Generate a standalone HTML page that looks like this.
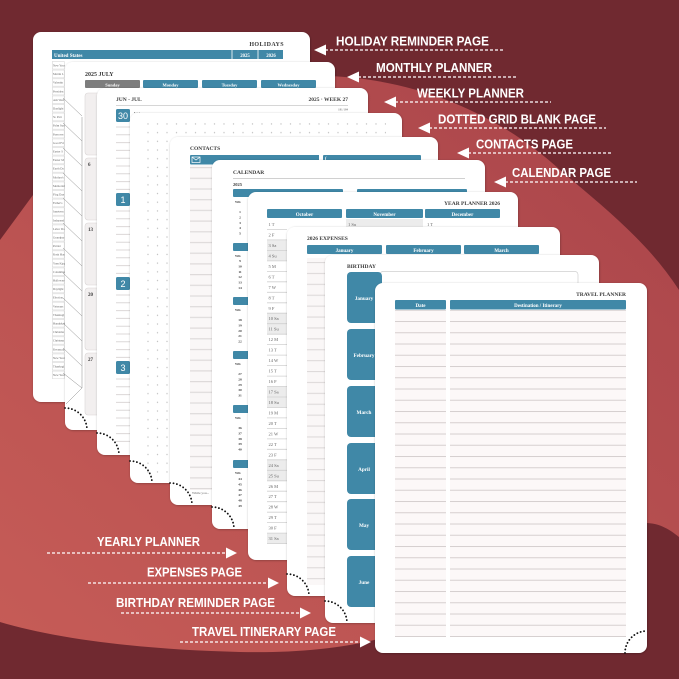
<!DOCTYPE html>
<html><head><meta charset="utf-8">
<style>
html,body{margin:0;padding:0;width:679px;height:679px;overflow:hidden;background:#702930}
svg{display:block}
.t{font-family:"Liberation Serif",serif;font-weight:bold;fill:#3a3a3a}
.r{font-family:"Liberation Serif",serif;fill:#666}
.w{font-family:"Liberation Serif",serif;font-weight:bold;fill:#fff}
.L{font-family:"Liberation Sans",sans-serif;font-weight:bold;fill:#fff;font-size:12.5px}
</style></head><body>
<svg width="679" height="679" viewBox="0 0 679 679" xmlns="http://www.w3.org/2000/svg">
<defs>
<linearGradient id="lg" x1="1" y1="0" x2="0" y2="1"><stop offset="0" stop-color="#a9444a"/><stop offset="1" stop-color="#c65c57"/></linearGradient>
<filter id="sh" x="-5%" y="-5%" width="110%" height="110%"><feDropShadow dx="0.4" dy="0.6" stdDeviation="1" flood-color="#000" flood-opacity="0.3"/></filter>
<pattern id="dots" patternUnits="userSpaceOnUse" x="147" y="123" width="9.5" height="8.7"><circle cx="1" cy="1" r="0.7" fill="#c2c2c2"/></pattern>
<pattern id="hl" patternUnits="userSpaceOnUse" x="52" y="61" width="20" height="8.6"><rect x="0.3" y="0.5" width="12" height="7.6" fill="#fff" stroke="#cfcfcf" stroke-width="0.5"/></pattern>
<pattern id="trav" patternUnits="userSpaceOnUse" x="0" y="321" width="20" height="11.25"><rect width="20" height="11.25" fill="#fcf8f8"/><rect y="0" width="20" height="1" fill="#d6cfcf"/></pattern>
<pattern id="crow" patternUnits="userSpaceOnUse" x="0" y="167" width="20" height="10.7"><rect width="20" height="10.7" fill="#faf7f7"/><rect y="0" width="20" height="1.2" fill="#dedada"/></pattern>
<pattern id="erow" patternUnits="userSpaceOnUse" x="0" y="262" width="20" height="10.9"><rect width="20" height="10.9" fill="#faf7f7"/><rect y="0" width="20" height="1.1" fill="#dedada"/></pattern>
</defs>

<!-- background -->
<rect width="679" height="679" fill="#702930"/>
<path d="M0,240 L33,195 L200,120 L330,76 C420,80 500,115 560,170 C610,212 650,245 679,290 L679,537 C668,528 658,523 645,523 L390,636 C340,650 290,653 240,652 C150,650 60,640 0,622 Z" fill="url(#lg)"/>

<!-- PAGE 1 HOLIDAYS -->
<rect x="33" y="32" width="277" height="370" rx="8" fill="#fff" filter="url(#sh)"/>
<text class="t" x="284" y="46" font-size="6" text-anchor="end" letter-spacing="0.4">HOLIDAYS</text>
<rect x="52" y="50" width="231" height="9" fill="#4088a7"/>
<text class="w" x="54" y="57" font-size="5">United States</text>
<path d="M232,50v9M258,50v9" stroke="#fff" stroke-width="0.8"/>
<text class="w" x="245" y="57" font-size="4.8" text-anchor="middle">2025</text>
<text class="w" x="271" y="57" font-size="4.8" text-anchor="middle">2026</text>
<rect x="52" y="61" width="13" height="318" fill="url(#hl)"/>
<g class="r" font-size="3">
<text x="53" y="66.5">New Year</text><text x="53" y="75.1">Martin L</text><text x="53" y="83.7">Valentin</text><text x="53" y="92.3">Presiden</text><text x="53" y="100.9">Ash Wed</text><text x="53" y="109.5">Daylight</text><text x="53" y="118.1">St. Patr</text><text x="53" y="126.7">Palm Sun</text><text x="53" y="135.3">Passover</text><text x="53" y="143.9">Good Fri</text><text x="53" y="152.5">Easter S</text><text x="53" y="161.1">Easter M</text><text x="53" y="169.7">Earth Da</text><text x="53" y="178.3">Mother's</text><text x="53" y="186.9">Memorial</text><text x="53" y="195.5">Flag Day</text><text x="53" y="204.1">Father's</text><text x="53" y="212.7">Juneteen</text><text x="53" y="221.3">Independ</text><text x="53" y="229.9">Labor Da</text><text x="53" y="238.5">Grandpar</text><text x="53" y="247.1">Patriot</text><text x="53" y="255.7">Rosh Has</text><text x="53" y="264.3">Yom Kipp</text><text x="53" y="272.9">Columbus</text><text x="53" y="281.5">Hallowee</text><text x="53" y="290.1">Daylight</text><text x="53" y="298.7">Election</text><text x="53" y="307.3">Veterans</text><text x="53" y="315.9">Thanksgi</text><text x="53" y="324.5">Hanukkah</text><text x="53" y="333.1">Christma</text><text x="53" y="341.7">Christma</text><text x="53" y="350.3">Kwanzaa</text><text x="53" y="358.9">New Year</text><text x="53" y="367.5">Thanksgi</text><text x="53" y="376.1">New Year</text>
</g>

<!-- PAGE 2 MONTHLY -->
<rect x="65" y="62" width="270" height="368" rx="8" fill="#fff" filter="url(#sh)"/>
<text class="t" x="85" y="76" font-size="6">2025 JULY</text>
<rect x="85" y="80" width="55" height="8" rx="1" fill="#7d7d7d"/>
<rect x="143" y="80" width="55" height="8" rx="1" fill="#4088a7"/>
<rect x="202" y="80" width="55" height="8" rx="1" fill="#4088a7"/>
<rect x="261" y="80" width="55" height="8" rx="1" fill="#4088a7"/>
<g class="w" font-size="4.5" text-anchor="middle"><text x="112.5" y="86.3">Sunday</text><text x="170.5" y="86.3">Monday</text><text x="229.5" y="86.3">Tuesday</text><text x="288.5" y="86.3">Wednesday</text></g>
<g fill="#f2efef" stroke="#d9d5d5" stroke-width="0.6">
<rect x="85" y="93" width="40" height="62" rx="3"/><rect x="85" y="158" width="40" height="62" rx="3"/><rect x="85" y="223" width="40" height="62" rx="3"/><rect x="85" y="288" width="40" height="62" rx="3"/><rect x="85" y="353" width="40" height="62" rx="3"/>
</g>
<g class="t" font-size="5" fill="#555"><text x="88" y="166">6</text><text x="88" y="231">13</text><text x="88" y="296">20</text><text x="88" y="361">27</text></g>
<path d="M82,117V388L66,404M63,98L82,116M63,123L82,141M63,148L82,166M63,173L82,191M63,198L82,216M63,223L82,241M63,248L82,266M63,273L82,291M63,298L82,316M63,323L82,341M63,348L82,366M63,373L82,388" stroke="#8a8a8a" stroke-width="0.5" fill="none"/>
<path d="M65,408A22,22 0 0 1 87,430" stroke="#111" stroke-width="1.8" stroke-dasharray="0.1 3.4" stroke-linecap="round" fill="none"/>

<!-- PAGE 3 WEEKLY -->
<rect x="97" y="88" width="271" height="367" rx="8" fill="#fff" filter="url(#sh)"/>
<text class="t" x="116" y="101" font-size="5.5">JUN - JUL</text>
<text class="t" x="348" y="101" font-size="5.5" text-anchor="end">2025 · WEEK 27</text>
<path d="M116,105.5H348" stroke="#c8c8c8" stroke-width="0.8"/>
<text class="r" x="348" y="110.5" font-size="3" text-anchor="end">181/184</text>
<text class="r" x="134" y="114" font-size="4">• -    -</text>
<g fill="#4088a7"><rect x="116" y="109" width="14" height="13" rx="1.5"/><rect x="116" y="193" width="14" height="13" rx="1.5"/><rect x="116" y="277" width="14" height="13" rx="1.5"/><rect x="116" y="361" width="14" height="13" rx="1.5"/></g>
<g font-family="Liberation Sans,sans-serif" font-size="9" fill="#fff" text-anchor="middle"><text x="123" y="118.8">30</text><text x="123" y="202.8">1</text><text x="123" y="286.8">2</text><text x="123" y="370.8">3</text></g>
<path d="M116,127h15M116,134.8h15M116,142.6h15M116,150.4h15M116,158.2h15M116,166h15M116,173.8h15M116,181.6h15M116,189.4h15M116,211h15M116,218.8h15M116,226.6h15M116,234.4h15M116,242.2h15M116,250h15M116,257.8h15M116,265.6h15M116,273.4h15M116,295h15M116,302.8h15M116,310.6h15M116,318.4h15M116,326.2h15M116,334h15M116,341.8h15M116,349.6h15M116,357.4h15M116,379h15M116,386.8h15M116,394.6h15M116,402.4h15M116,410.2h15M116,418h15M116,425.8h15M116,433.6h15M116,441.4h15" stroke="#dcd8d8" stroke-width="1"/>
<path d="M97,433A22,22 0 0 1 119,455" stroke="#111" stroke-width="1.8" stroke-dasharray="0.1 3.4" stroke-linecap="round" fill="none"/>

<!-- PAGE 4 DOTTED -->
<rect x="130" y="113" width="272" height="370" rx="8" fill="#fff" filter="url(#sh)"/>
<rect x="146" y="122" width="240" height="352" fill="url(#dots)"/>
<path d="M130,461A22,22 0 0 1 152,483" stroke="#111" stroke-width="1.8" stroke-dasharray="0.1 3.4" stroke-linecap="round" fill="none"/>

<!-- PAGE 5 CONTACTS -->
<rect x="170" y="137" width="268" height="368" rx="8" fill="#fff" filter="url(#sh)"/>
<text class="t" x="190" y="150" font-size="5.5">CONTACTS</text>
<path d="M190,156a1,1 0 0 1 1,-1H319V160.5H217L213,164.5H191a1,1 0 0 1 -1,-1Z" fill="#4088a7"/>
<rect x="192" y="157" width="8" height="5.5" fill="none" stroke="#fff" stroke-width="0.7"/>
<path d="M192,157L196,160L200,157" fill="none" stroke="#fff" stroke-width="0.7"/>
<rect x="323" y="155" width="98" height="5.5" rx="1" fill="#4088a7"/>
<text class="w" x="325" y="160" font-size="5">(</text>
<rect x="190" y="165" width="23" height="325" fill="url(#crow)"/>
<text class="r" x="192" y="494" font-size="3.5" fill="#999">While you...</text>
<path d="M170,483A22,22 0 0 1 192,505" stroke="#111" stroke-width="1.8" stroke-dasharray="0.1 3.4" stroke-linecap="round" fill="none"/>

<!-- PAGE 6 CALENDAR -->
<rect x="212" y="160" width="273" height="369" rx="8" fill="#fff" filter="url(#sh)"/>
<text class="t" x="233" y="174" font-size="5.5">CALENDAR</text>
<path d="M233,178.5H465" stroke="#c0c0c0" stroke-width="0.7"/>
<text class="t" x="233" y="186" font-size="4.5">2025</text>
<g fill="#4088a7"><rect x="233" y="189" width="110" height="8" rx="1"/><rect x="357" y="189" width="110" height="8" rx="1"/><rect x="233" y="243" width="110" height="8" rx="1"/><rect x="233" y="297" width="110" height="8" rx="1"/><rect x="233" y="351" width="110" height="8" rx="1"/><rect x="233" y="405" width="110" height="8" rx="1"/><rect x="233" y="460" width="110" height="8" rx="1"/></g>
<g class="t" font-size="3.3" fill="#555"><text x="235" y="203">WK</text><text x="235" y="257">WK</text><text x="235" y="311">WK</text><text x="235" y="365">WK</text><text x="235" y="419">WK</text><text x="235" y="474">WK</text></g>
<g class="t" font-size="3.5" fill="#444" text-anchor="middle">
<text x="240" y="213">1</text><text x="240" y="218.4">2</text><text x="240" y="223.8">3</text><text x="240" y="229.2">4</text><text x="240" y="234.6">5</text>
<text x="240" y="262">9</text><text x="240" y="267.4">10</text><text x="240" y="272.8">11</text><text x="240" y="278.2">12</text><text x="240" y="283.6">13</text><text x="240" y="289">14</text>
<text x="240" y="321">18</text><text x="240" y="326.4">19</text><text x="240" y="331.8">20</text><text x="240" y="337.2">21</text><text x="240" y="342.6">22</text>
<text x="240" y="375">27</text><text x="240" y="380.4">28</text><text x="240" y="385.8">29</text><text x="240" y="391.2">30</text><text x="240" y="396.6">31</text>
<text x="240" y="429">36</text><text x="240" y="434.4">37</text><text x="240" y="439.8">38</text><text x="240" y="445.2">39</text><text x="240" y="450.6">40</text>
<text x="240" y="480">44</text><text x="240" y="485.4">45</text><text x="240" y="490.8">46</text><text x="240" y="496.2">47</text><text x="240" y="501.6">48</text><text x="240" y="507">49</text>
</g>
<path d="M212,507A22,22 0 0 1 234,529" stroke="#111" stroke-width="1.8" stroke-dasharray="0.1 3.4" stroke-linecap="round" fill="none"/>

<!-- PAGE 7 YEAR PLANNER -->
<rect x="248" y="192" width="270" height="368" rx="8" fill="#fff" filter="url(#sh)"/>
<text class="t" x="500" y="205" font-size="5.5" text-anchor="end">YEAR PLANNER 2026</text>
<g fill="#4088a7"><rect x="267" y="209" width="75" height="9" rx="1"/><rect x="346" y="209" width="77" height="9" rx="1"/><rect x="425" y="209" width="75" height="9" rx="1"/></g>
<g class="w" font-size="5" text-anchor="middle"><text x="304.5" y="215.8">October</text><text x="384.5" y="215.8">November</text><text x="462.5" y="215.8">December</text></g>
<g fill="#ececec"><rect x="267" y="239.9" width="20" height="10.5"/><rect x="267" y="250.4" width="20" height="10.5"/><rect x="267" y="313.2" width="20" height="10.5"/><rect x="267" y="323.7" width="20" height="10.5"/><rect x="267" y="386.5" width="20" height="10.5"/><rect x="267" y="397" width="20" height="10.5"/><rect x="267" y="459.8" width="20" height="10.5"/><rect x="267" y="470.3" width="20" height="10.5"/><rect x="267" y="533.1" width="20" height="10.5"/><rect x="346" y="219" width="77" height="10.5"/></g>
<path d="M267,229.5h20M267,239.9h20M267,250.4h20M267,260.9h20M267,271.4h20M267,281.8h20M267,292.3h20M267,302.8h20M267,313.2h20M267,323.7h20M267,334.2h20M267,344.6h20M267,355.1h20M267,365.6h20M267,376.1h20M267,386.5h20M267,397h20M267,407.5h20M267,417.9h20M267,428.4h20M267,438.9h20M267,449.3h20M267,459.8h20M267,470.3h20M267,480.8h20M267,491.2h20M267,501.7h20M267,512.2h20M267,522.6h20M267,533.1h20M267,543.6h20M346,229.5h77M425,229.5h75" stroke="#d0d0d0" stroke-width="0.8"/>
<g class="r" font-size="4.5">
<text x="268.5" y="226">1 T</text><text x="268.5" y="236.5">2 F</text><text x="268.5" y="246.9">3 Sa</text><text x="268.5" y="257.4">4 Su</text><text x="268.5" y="267.9">5 M</text><text x="268.5" y="278.4">6 T</text><text x="268.5" y="288.8">7 W</text><text x="268.5" y="299.3">8 T</text><text x="268.5" y="309.8">9 F</text><text x="268.5" y="320.2">10 Sa</text><text x="268.5" y="330.7">11 Su</text><text x="268.5" y="341.2">12 M</text><text x="268.5" y="351.6">13 T</text><text x="268.5" y="362.1">14 W</text><text x="268.5" y="372.6">15 T</text><text x="268.5" y="383.1">16 F</text><text x="268.5" y="393.5">17 Sa</text><text x="268.5" y="404">18 Su</text><text x="268.5" y="414.5">19 M</text><text x="268.5" y="424.9">20 T</text><text x="268.5" y="435.4">21 W</text><text x="268.5" y="445.9">22 T</text><text x="268.5" y="456.3">23 F</text><text x="268.5" y="466.8">24 Sa</text><text x="268.5" y="477.3">25 Su</text><text x="268.5" y="487.8">26 M</text><text x="268.5" y="498.2">27 T</text><text x="268.5" y="508.7">28 W</text><text x="268.5" y="519.2">29 T</text><text x="268.5" y="529.6">30 F</text><text x="268.5" y="540.1">31 Sa</text>
<text x="348" y="226">1 Su</text><text x="427" y="226">1 T</text>
</g>

<!-- PAGE 8 EXPENSES -->
<rect x="287" y="227" width="273" height="369" rx="8" fill="#fff" filter="url(#sh)"/>
<text class="t" x="307" y="240" font-size="5.5">2026 EXPENSES</text>
<g fill="#4088a7"><rect x="307" y="245" width="75" height="9" rx="1"/><rect x="386" y="245" width="75" height="9" rx="1"/><rect x="464" y="245" width="75" height="9" rx="1"/></g>
<g class="w" font-size="5" text-anchor="middle"><text x="344.5" y="251.8">January</text><text x="423.5" y="251.8">February</text><text x="501.5" y="251.8">March</text></g>
<rect x="307" y="258" width="19" height="327" fill="url(#erow)"/>
<path d="M287,574A22,22 0 0 1 309,596" stroke="#111" stroke-width="1.8" stroke-dasharray="0.1 3.4" stroke-linecap="round" fill="none"/>

<!-- PAGE 9 BIRTHDAY -->
<rect x="325" y="255" width="274" height="368" rx="8" fill="#fff" filter="url(#sh)"/>
<text class="t" x="347" y="268" font-size="5.5">BIRTHDAY</text>
<rect x="380" y="271.5" width="198" height="14" rx="3" fill="none" stroke="#cfcfcf" stroke-width="0.7"/>
<g fill="#4088a7"><rect x="347" y="272" width="35" height="51" rx="4"/><rect x="347" y="329" width="35" height="51" rx="4"/><rect x="347" y="386" width="35" height="51" rx="4"/><rect x="347" y="443" width="35" height="51" rx="4"/><rect x="347" y="499" width="35" height="51" rx="4"/><rect x="347" y="556" width="35" height="51" rx="4"/></g>
<g class="w" font-size="5.2" text-anchor="middle"><text x="364" y="300">January</text><text x="364" y="357">February</text><text x="364" y="414">March</text><text x="364" y="471">April</text><text x="364" y="527">May</text><text x="364" y="584">June</text></g>
<path d="M325,601A22,22 0 0 1 347,623" stroke="#111" stroke-width="1.8" stroke-dasharray="0.1 3.4" stroke-linecap="round" fill="none"/>

<!-- PAGE 10 TRAVEL -->
<rect x="375" y="283" width="272" height="370" rx="8" fill="#fff" filter="url(#sh)"/>
<text class="t" x="626" y="296" font-size="5.5" text-anchor="end">TRAVEL PLANNER</text>
<g fill="#4088a7"><rect x="395" y="300" width="51" height="9.5" rx="1"/><rect x="450" y="300" width="176" height="9.5" rx="1"/></g>
<g class="w" font-size="5" text-anchor="middle"><text x="420.5" y="306.8">Date</text><text x="538" y="306.8">Destination / Itinerary</text></g>
<rect x="395" y="310" width="51" height="327" fill="url(#trav)"/>
<rect x="450" y="310" width="176" height="327" fill="url(#trav)"/>
<path d="M625,653A22,22 0 0 1 647,631" stroke="#111" stroke-width="1.8" stroke-dasharray="0.1 3.4" stroke-linecap="round" fill="none"/>

<!-- LABELS TOP -->
<g stroke="#fff" stroke-width="1.2" stroke-dasharray="3 2" fill="none">
<path d="M325,50H503"/><path d="M358,77H517"/><path d="M395,102H551"/><path d="M429,128H606"/><path d="M468,153H613"/><path d="M505,182H637"/>
<path d="M47,553H226"/><path d="M88,583H268"/><path d="M121,613H300"/><path d="M180,642H360"/>
</g>
<g fill="#fff">
<polygon points="314,50 326,44.5 326,55.5"/><polygon points="347,77 359,71.5 359,82.5"/><polygon points="384,102 396,96.5 396,107.5"/><polygon points="418,128 430,122.5 430,133.5"/><polygon points="457,153 469,147.5 469,158.5"/><polygon points="494,182 506,176.5 506,187.5"/>
<polygon points="237,553 226,547.5 226,558.5"/><polygon points="279,583 268,577.5 268,588.5"/><polygon points="311,613 300,607.5 300,618.5"/><polygon points="371,642 360,636.5 360,647.5"/>
</g>
<text class="L" x="336" y="45.5" textLength="153" lengthAdjust="spacingAndGlyphs">HOLIDAY REMINDER PAGE</text>
<text class="L" x="376" y="72" textLength="116" lengthAdjust="spacingAndGlyphs">MONTHLY PLANNER</text>
<text class="L" x="417" y="97.5" textLength="107" lengthAdjust="spacingAndGlyphs">WEEKLY PLANNER</text>
<text class="L" x="438" y="123.5" textLength="158" lengthAdjust="spacingAndGlyphs">DOTTED GRID BLANK PAGE</text>
<text class="L" x="476" y="148.5" textLength="97" lengthAdjust="spacingAndGlyphs">CONTACTS PAGE</text>
<text class="L" x="512" y="177" textLength="99" lengthAdjust="spacingAndGlyphs">CALENDAR PAGE</text>
<text class="L" x="97" y="546" textLength="103" lengthAdjust="spacingAndGlyphs">YEARLY PLANNER</text>
<text class="L" x="147" y="576.5" textLength="95" lengthAdjust="spacingAndGlyphs">EXPENSES PAGE</text>
<text class="L" x="116" y="607" textLength="159" lengthAdjust="spacingAndGlyphs">BIRTHDAY REMINDER PAGE</text>
<text class="L" x="192" y="636" textLength="144" lengthAdjust="spacingAndGlyphs">TRAVEL ITINERARY PAGE</text>
</svg>
</body></html>
